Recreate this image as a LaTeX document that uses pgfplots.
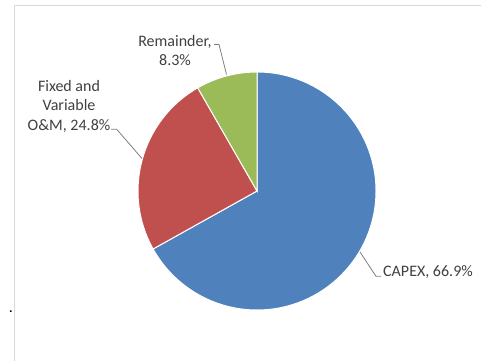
\documentclass[border=0pt]{standalone}
\usepackage{pgfplots}
\usepackage{pgfplotstable}
\pgfplotsset{compat=1.18}
\usepackage{fontspec}
\setmainfont{Carlito}
\definecolor{capex}{HTML}{4F81BD}
\definecolor{om}{HTML}{C0504D}
\definecolor{rem}{HTML}{9BBB59}
\definecolor{lbl}{HTML}{404040}
\definecolor{lead}{HTML}{7F7F7F}
\definecolor{frame}{HTML}{D9D9D9}

\pgfplotstableread{
name value
CAPEX 66.9
OM 24.8
Remainder 8.3
}\piedata

\begin{document}
\begin{tikzpicture}
\pgfplotstablegetelem{0}{value}\of\piedata \pgfmathsetmacro\va{\pgfplotsretval}
\pgfplotstablegetelem{1}{value}\of\piedata \pgfmathsetmacro\vb{\pgfplotsretval}
\pgfplotstablegetelem{2}{value}\of\piedata \pgfmathsetmacro\vc{\pgfplotsretval}
\pgfmathsetmacro\aA{90}
\pgfmathsetmacro\aB{90-3.6*\va}
\pgfmathsetmacro\aC{\aB-3.6*\vb}
\pgfmathsetmacro\aD{\aC-3.6*\vc}
\useasboundingbox (0,0) rectangle (481bp,361bp);
\begin{axis}[
  at={(0,0)}, anchor=south west,
  width=481bp, height=361bp, scale only axis,
  xmin=0, xmax=481, ymin=0, ymax=361,
  y dir=reverse, axis lines=none, clip=false,
]
\draw[frame, line width=1bp] (axis cs:14,361) -- (axis cs:14,6) -- (axis cs:481,6);
\fill[capex, draw=white, line width=1bp] (axis cs:257,191) -- ++(\aA:119bp) arc[start angle=\aA, end angle=\aB, radius=119bp] -- cycle;
\fill[om, draw=white, line width=1bp] (axis cs:257,191) -- ++(\aB:119bp) arc[start angle=\aB, end angle=\aC, radius=119bp] -- cycle;
\fill[rem, draw=white, line width=1bp] (axis cs:257,191) -- ++(\aC:119bp) arc[start angle=\aC, end angle=\aD, radius=119bp] -- cycle;
% leader lines
\draw[lead, line width=0.8bp] (axis cs:214,44.5) -- (axis cs:219,44.5) -- (axis cs:226.5,74.5);
\draw[lead, line width=0.8bp] (axis cs:111,129.3) -- (axis cs:116.7,129.3) -- (axis cs:142,158.5);
\draw[lead, line width=0.8bp] (axis cs:360,252) -- (axis cs:376,276.3) -- (axis cs:381,276.3);
% labels
\begin{scope}[every node/.style={text=lbl, inner sep=0pt, font=\fontsize{16bp}{19.5bp}\selectfont}]
\node[anchor=base] at (axis cs:175,46.7) {Remainder,};
\node[anchor=base] at (axis cs:175,65.7) {8.3\%};
\node[anchor=base] at (axis cs:69,91) {Fixed and};
\node[anchor=base] at (axis cs:69,110.5) {Variable};
\node[anchor=base] at (axis cs:69,130) {O\&M, 24.8\%};
\node[anchor=base west] at (axis cs:383,276.5) {CAPEX, 66.9\%};
\node[anchor=base, text=black] at (axis cs:11,312) {.};
\end{scope}
\end{axis}
\end{tikzpicture}
\end{document}
